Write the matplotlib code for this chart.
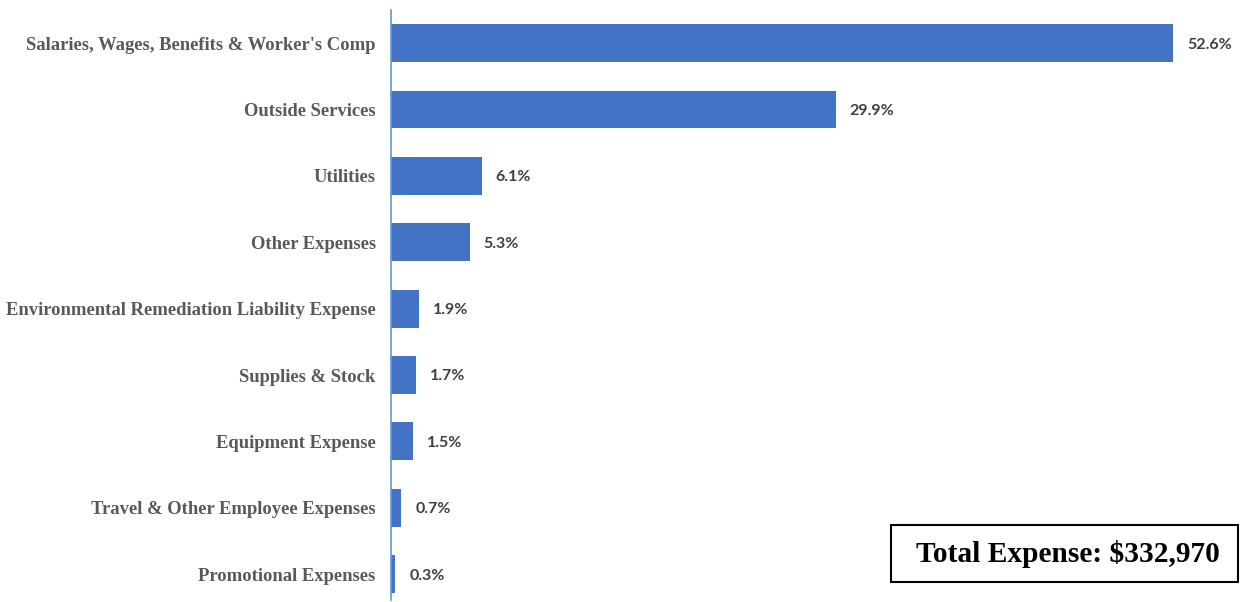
import matplotlib.pyplot as plt
from matplotlib.patches import Rectangle

categories = [
    "Salaries, Wages, Benefits & Worker's Comp",
    "Outside Services",
    "Utilities",
    "Other Expenses",
    "Environmental Remediation Liability Expense",
    "Supplies & Stock",
    "Equipment Expense",
    "Travel & Other Employee Expenses",
    "Promotional Expenses",
]
shares = [52.6, 29.9, 6.1, 5.3, 1.9, 1.7, 1.5, 0.7, 0.3]
total_label = "Total Expense: $332,970"

fig = plt.figure(figsize=(12.41, 6.02), dpi=100)
ax = fig.add_axes([391 / 1241, 2 / 602, 818 / 1241, 590 / 602])

pos = list(range(len(categories)))
ax.barh(pos, shares, height=0.57, color="#4472C4")

for p, v in zip(pos, shares):
    ax.annotate(f"{v:.1f}%", (v, p), xytext=(10, -1), textcoords="offset points",
                va="center", ha="left", fontsize=11.5, fontweight="bold",
                family="Lato", color="#404040")

ax.set_xlim(0, 55)
ax.set_ylim(8.39, -0.5)
ax.set_yticks(pos)
ax.set_yticklabels(categories, family="Liberation Serif", fontweight="bold",
                   fontsize=13.4, color="#595959")
ax.tick_params(axis="y", length=0, pad=11)
ax.set_xticks([])

for s in ["top", "right", "bottom"]:
    ax.spines[s].set_visible(False)
ax.spines["left"].set_color("#5B9BD5")
ax.spines["left"].set_linewidth(1.2)

# boxed total in the lower right
fig.patches.append(Rectangle((891 / 1241, 1 - 582 / 602), 347 / 1241, 57 / 602,
                             transform=fig.transFigure, fill=False,
                             edgecolor="black", linewidth=1.5))
fig.text(1068 / 1241, 1 - 554 / 602, total_label, ha="center", va="center",
         family="Liberation Serif", fontweight="bold", fontsize=21.2, color="black")

fig.savefig("out.png", dpi=100, facecolor="white")
